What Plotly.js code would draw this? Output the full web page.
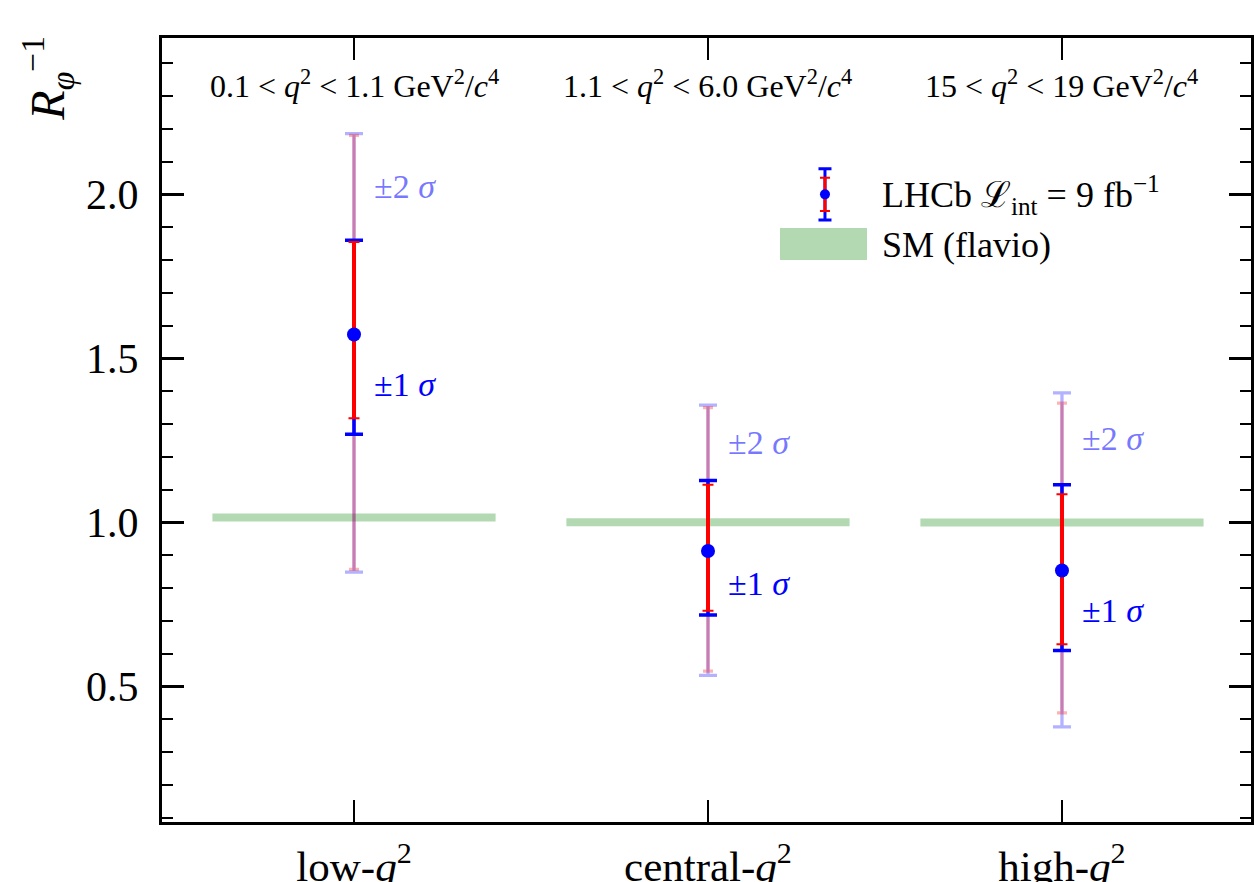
<!DOCTYPE html>
<html>
<head>
<meta charset="utf-8">
<script src="https://cdn.plot.ly/plotly-3.0.1.min.js"></script>
<style>html,body{margin:0;padding:0;background:#fff;}#chart{width:1254px;height:882px;}</style>
</head>
<body>
<div id="chart"></div>
<script>
// ---- data ----
const categories = ['low-<i>q</i><sup>2</sup>', 'central-<i>q</i><sup>2</sup>', 'high-<i>q</i><sup>2</sup>'];
const regionLabels = [
  '0.1 < <i>q</i><sup>2</sup> < 1.1 GeV<sup>2</sup>/<i>c</i><sup>4</sup>',
  '1.1 < <i>q</i><sup>2</sup> < 6.0 GeV<sup>2</sup>/<i>c</i><sup>4</sup>',
  '15 < <i>q</i><sup>2</sup> < 19 GeV<sup>2</sup>/<i>c</i><sup>4</sup>'
];
const central   = [1.573, 0.913, 0.854];
const tot1Up    = [1.860, 1.128, 1.115];
const tot1Down  = [1.269, 0.718, 0.610];
const stat1Up   = [1.855, 1.115, 1.086];
const stat1Down = [1.318, 0.731, 0.629];
const tot2Up    = [2.185, 1.358, 1.395];
const tot2Down  = [0.849, 0.534, 0.377];
const stat2Up   = [2.180, 1.350, 1.364];
const stat2Down = [0.857, 0.547, 0.420];
const smValues  = [1.015, 1.001, 1.000];
const legendSampleX = [1.3305];
const legendSampleY = [2.0];
const legendTotErr  = [0.078];
const legendStatErr = [0.051];

// ---- build ----
const FONT = 'Liberation Serif, DejaVu Serif, serif';
const xIdx = categories.map((_, i) => i);
const smHalf = 0.4;

function errTrace(xs, ys, up, down, color, thickness, width) {
  return {
    x: xs, y: ys, type: 'scatter', mode: 'markers',
    marker: {size: 1, color: 'rgba(0,0,0,0)'},
    error_y: {type: 'data', symmetric: false,
      array: up.map((u, i) => u - ys[i]),
      arrayminus: down.map((d, i) => ys[i] - d),
      color: color, thickness: thickness, width: width},
    hoverinfo: 'skip', showlegend: false
  };
}

const smX = [], smY = [];
xIdx.forEach((x, i) => { smX.push(x - smHalf, x + smHalf, null); smY.push(smValues[i], smValues[i], null); });

const traces = [
  {x: smX, y: smY, type: 'scatter', mode: 'lines', line: {color: 'rgba(0,128,0,0.3)', width: 8}, hoverinfo: 'skip', showlegend: false},
  errTrace(xIdx, central, tot2Up, tot2Down, 'rgba(0,0,255,0.3)', 3.3, 9),
  errTrace(xIdx, central, stat2Up, stat2Down, 'rgba(255,0,0,0.3)', 3.3, 5),
  errTrace(xIdx, central, tot1Up, tot1Down, '#0000ff', 3.5, 9),
  errTrace(xIdx, central, stat1Up, stat1Down, '#ff0000', 2, 5.5),
  errTrace(xIdx, central, stat1Up, stat1Down, '#ff0000', 4, 0),
  {x: xIdx, y: central, type: 'scatter', mode: 'markers', marker: {color: '#0000ff', size: 14}, hoverinfo: 'skip', showlegend: false},
  // legend sample glyph
  errTrace(legendSampleX, legendSampleY, legendSampleY.map((y,i)=>y+legendTotErr[i]), legendSampleY.map((y,i)=>y-legendTotErr[i]), '#0000ff', 3, 6.5),
  errTrace(legendSampleX, legendSampleY, legendSampleY.map((y,i)=>y+legendStatErr[i]), legendSampleY.map((y,i)=>y-legendStatErr[i]), '#ff0000', 2, 5),
  errTrace(legendSampleX, legendSampleY, legendSampleY.map((y,i)=>y+legendStatErr[i]), legendSampleY.map((y,i)=>y-legendStatErr[i]), '#ff0000', 3, 0),
  {x: legendSampleX, y: legendSampleY, type: 'scatter', mode: 'markers', marker: {color: '#0000ff', size: 10}, hoverinfo: 'skip', showlegend: false}
];

const annotations = [];
regionLabels.forEach((t, i) => annotations.push({
  text: t, x: xIdx[i], xref: 'x', y: 0.941, yref: 'paper', xanchor: 'center', yanchor: 'middle',
  showarrow: false, font: {family: FONT, size: 32, color: '#000'}
}));
xIdx.forEach((x, i) => {
  annotations.push({text: '±2 <i>σ</i>', x: x + 0.05, y: (tot1Up[i] + tot2Up[i]) / 2, xref: 'x', yref: 'y',
    xanchor: 'left', yanchor: 'middle', showarrow: false, font: {family: FONT, size: 34, color: 'rgba(0,0,255,0.55)'}});
  annotations.push({text: '±1 <i>σ</i>', x: x + 0.05, y: (central[i] + tot1Down[i]) / 2, xref: 'x', yref: 'y',
    xanchor: 'left', yanchor: 'middle', showarrow: false, font: {family: FONT, size: 34, color: '#0000ff'}});
});
annotations.push({text: 'LHCb ℒ<sub>int</sub> = 9 fb<sup>−1</sup>', x: 0.6593, y: 0.7997, xref: 'paper', yref: 'paper',
  xanchor: 'left', yanchor: 'middle', showarrow: false, font: {family: FONT, size: 36, color: '#000'}});
annotations.push({text: 'SM (flavio)', x: 0.6593, y: 0.736, xref: 'paper', yref: 'paper',
  xanchor: 'left', yanchor: 'middle', showarrow: false, font: {family: FONT, size: 36, color: '#000'}});
annotations.push({text: '<i>R</i><sub><i>φ</i></sub><sup>−1</sup>', x: -0.105, y: 0.949, xref: 'paper', yref: 'paper',
  xanchor: 'center', yanchor: 'middle', textangle: -90, showarrow: false, font: {family: FONT, size: 48, color: '#000'}});

const layout = {
  width: 1254, height: 882,
  margin: {l: 162, r: 3, t: 38, b: 60},
  paper_bgcolor: '#fff', plot_bgcolor: '#fff',
  showlegend: false,
  font: {family: FONT, color: '#000'},
  xaxis: {
    range: [-0.5424, 2.534], tickvals: xIdx, ticktext: categories,
    ticks: 'inside', ticklen: 22, tickwidth: 2.5, tickcolor: '#000',
    showline: true, linewidth: 3, linecolor: '#000', mirror: 'allticks',
    showgrid: false, zeroline: false, ticklabelstandoff: 4,
    tickfont: {family: FONT, size: 43, color: '#000'}
  },
  yaxis: {
    range: [0.0874, 2.4765], tickvals: [0.5, 1.0, 1.5, 2.0], ticktext: ['0.5', '1.0', '1.5', '2.0'],
    ticks: 'inside', ticklen: 22, tickwidth: 2.5, tickcolor: '#000',
    minor: {dtick: 0.1, tick0: 0, ticks: 'inside', ticklen: 11, tickwidth: 2, tickcolor: '#000'},
    showline: true, linewidth: 3, linecolor: '#000', mirror: 'allticks',
    showgrid: false, zeroline: false, ticklabelstandoff: 12,
    tickfont: {family: FONT, size: 42, color: '#000'}
  },
  shapes: [{type: 'rect', xref: 'paper', yref: 'paper', x0: 0.5675, x1: 0.6474, y0: 0.7168, y1: 0.7577,
    fillcolor: 'rgba(0,128,0,0.3)', line: {width: 0}}],
  annotations: annotations
};

Plotly.newPlot('chart', traces, layout, {staticPlot: true});
</script>
</body>
</html>
